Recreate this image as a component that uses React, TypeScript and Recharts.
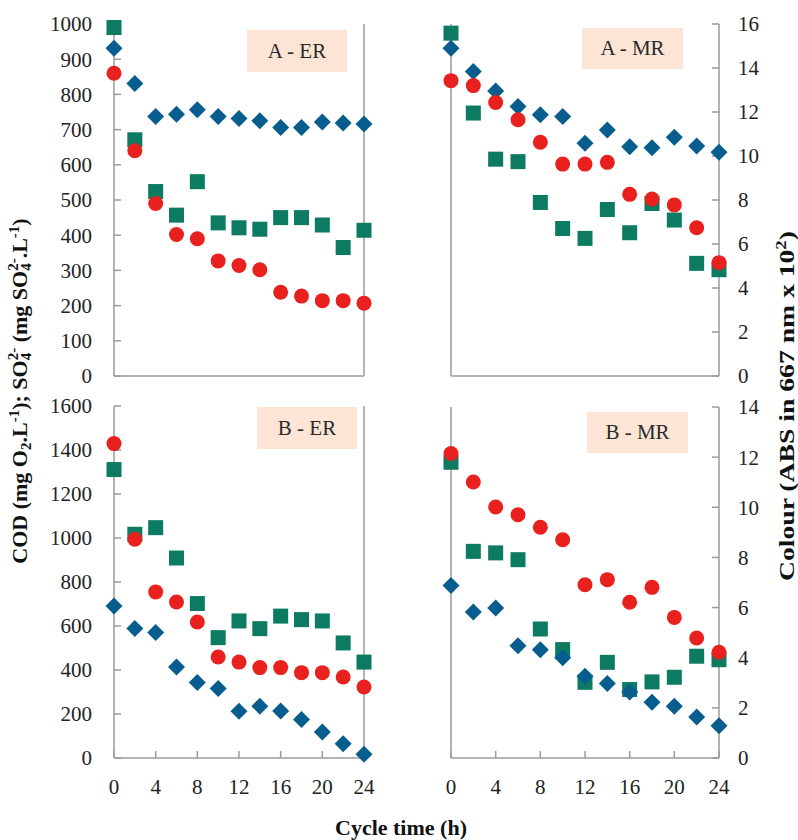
import React from 'react';
import { ScatterChart, Scatter, XAxis, YAxis } from 'recharts';

const time = [0, 2, 4, 6, 8, 10, 12, 14, 16, 18, 20, 22, 24];
const xTicks = [0, 4, 8, 12, 16, 20, 24];
const topLeftTicks = [0, 100, 200, 300, 400, 500, 600, 700, 800, 900, 1000];
const topRightTicks = [0, 2, 4, 6, 8, 10, 12, 14, 16];
const bottomLeftTicks = [0, 200, 400, 600, 800, 1000, 1200, 1400, 1600];
const bottomRightTicks = [0, 2, 4, 6, 8, 10, 12, 14];

// A - ER
const aErCod = [860, 640, 490, 402, 390, 327, 314, 302, 238, 227, 214, 214, 207];
const aErSulfate = [990, 671, 524, 457, 552, 435, 421, 417, 450, 450, 429, 365, 414];
const aErColour = [14.9, 13.3, 11.8, 11.9, 12.1, 11.8, 11.7, 11.6, 11.3, 11.3, 11.55, 11.5, 11.45];
// A - MR
const aMrCod = [839, 825, 777, 728, 664, 602, 602, 607, 516, 503, 486, 421, 322];
const aMrSulfate = [974, 747, 616, 609, 493, 419, 391, 473, 407, 490, 443, 320, 302];
const aMrColour = [14.9, 13.84, 12.96, 12.25, 11.87, 11.79, 10.58, 11.18, 10.42, 10.38, 10.85, 10.46, 10.17];
// B - ER
const bErCod = [1429, 994, 755, 709, 618, 459, 436, 411, 411, 388, 388, 368, 323];
const bErSulfate = [1311, 1017, 1047, 909, 702, 547, 623, 588, 645, 629, 623, 523, 436];
const bErColour = [6.05, 5.15, 4.99, 3.62, 3.0, 2.76, 1.86, 2.06, 1.87, 1.53, 1.03, 0.57, 0.15];
// B - MR
const bMrCod = [1388, 1258, 1144, 1109, 1052, 995, 790, 813, 710, 778, 641, 547, 482];
const bMrSulfate = [1348, 942, 935, 904, 588, 494, 345, 436, 312, 347, 368, 464, 448];
const bMrColour = [6.88, 5.82, 5.98, 4.48, 4.32, 4.0, 3.26, 2.97, 2.63, 2.22, 2.06, 1.64, 1.29];

const RED = '#E8211E';
const GREEN = '#0D7A62';
const BLUE = '#065D8E';
const AXIS = '#9B9B9B';
const SERIF = '"Liberation Serif", "Times New Roman", serif';

const toPts = (vals: number[]) => time.map((t, i) => ({ x: t, y: vals[i] }));

const Square = (p: any) => (
  <rect x={p.cx - 7.5} y={p.cy - 7.5} width={15} height={15} fill={GREEN} />
);
const Diamond = (p: any) => (
  <path
    d={`M${p.cx},${p.cy - 8.5}L${p.cx + 8.5},${p.cy}L${p.cx},${p.cy + 8.5}L${p.cx - 8.5},${p.cy}Z`}
    fill={BLUE}
  />
);
const Dot = (p: any) => <circle cx={p.cx} cy={p.cy} r={7.5} fill={RED} />;

const tickStyle = { fill: '#222', fontSize: 21, fontFamily: SERIF };

type PanelProps = {
  left: number;
  top: number;
  width: number;
  height: number;
  margin: { top: number; right: number; bottom: number; left: number };
  leftW: number;
  rightW: number;
  xH: number;
  cod: number[];
  sulfate: number[];
  colour: number[];
  leftMax: number;
  leftTicks: number[];
  rightMax: number;
  rightTicks: number[];
  showLeft: boolean;
  showRight: boolean;
  showX: boolean;
};

function Panel(p: PanelProps) {
  return (
    <div style={{ position: 'absolute', left: p.left, top: p.top }}>
      <ScatterChart width={p.width} height={p.height} margin={p.margin}>
        <XAxis
          type="number"
          dataKey="x"
          domain={[0, 24]}
          ticks={xTicks}
          height={p.xH}
          axisLine={{ stroke: AXIS, strokeWidth: 1.5 }}
          tickLine={{ stroke: AXIS, strokeWidth: 1.5 }}
          tickSize={-7}
          tickMargin={28}
          tick={p.showX ? tickStyle : false}
          interval={0}
        />
        <YAxis
          yAxisId="l"
          type="number"
          dataKey="y"
          orientation="left"
          domain={[0, p.leftMax]}
          ticks={p.leftTicks}
          width={p.leftW}
          axisLine={{ stroke: AXIS, strokeWidth: 1.5 }}
          tickLine={{ stroke: AXIS, strokeWidth: 1.5 }}
          tickSize={-7}
          tickMargin={29}
          tick={p.showLeft ? tickStyle : false}
          interval={0}
        />
        <YAxis
          yAxisId="r"
          type="number"
          dataKey="y"
          orientation="right"
          domain={[0, p.rightMax]}
          ticks={p.rightTicks}
          width={p.rightW}
          axisLine={{ stroke: AXIS, strokeWidth: 1.5 }}
          tickLine={{ stroke: AXIS, strokeWidth: 1.5 }}
          tickSize={-7}
          tickMargin={26}
          tick={p.showRight ? { ...tickStyle, textAnchor: 'start' } : false}
          interval={0}
        />
        <Scatter yAxisId="l" data={toPts(p.sulfate)} shape={Square} isAnimationActive={false} />
        <Scatter yAxisId="r" data={toPts(p.colour)} shape={Diamond} isAnimationActive={false} />
        <Scatter yAxisId="l" data={toPts(p.cod)} shape={Dot} isAnimationActive={false} />
      </ScatterChart>
    </div>
  );
}

const boxStyle = (left: number, top: number, w: number, h: number): React.CSSProperties => ({
  position: 'absolute',
  left,
  top,
  width: w,
  height: h,
  background: '#FCE5D5',
  color: '#2a2a2a',
  fontFamily: SERIF,
  fontSize: 21,
  display: 'flex',
  alignItems: 'center',
  justifyContent: 'center',
  whiteSpace: 'pre',
});

export default function App() {
  const topMargin = { top: 24, right: 0, bottom: 4, left: 0 };
  return (
    <div style={{ position: 'absolute', left: 0, top: 0, width: 798, height: 840, background: '#fff', overflow: 'hidden' }}>
      <Panel
        left={0} top={0} width={400} height={400} margin={topMargin} leftW={114} rightW={36} xH={20}
        cod={aErCod} sulfate={aErSulfate} colour={aErColour}
        leftMax={1000} leftTicks={topLeftTicks} rightMax={16} rightTicks={topRightTicks}
        showLeft={true} showRight={false} showX={false}
      />
      <Panel
        left={400} top={0} width={398} height={400} margin={topMargin} leftW={51} rightW={79} xH={20}
        cod={aMrCod} sulfate={aMrSulfate} colour={aMrColour}
        leftMax={1000} leftTicks={topLeftTicks} rightMax={16} rightTicks={topRightTicks}
        showLeft={false} showRight={true} showX={false}
      />
      <Panel
        left={0} top={380} width={400} height={420} margin={{ top: 26, right: 0, bottom: 2, left: 0 }} leftW={114} rightW={36} xH={40}
        cod={bErCod} sulfate={bErSulfate} colour={bErColour}
        leftMax={1600} leftTicks={bottomLeftTicks} rightMax={14} rightTicks={bottomRightTicks}
        showLeft={true} showRight={false} showX={true}
      />
      <Panel
        left={400} top={380} width={398} height={420} margin={{ top: 27, right: 0, bottom: 2, left: 0 }} leftW={51} rightW={79} xH={40}
        cod={bMrCod} sulfate={bMrSulfate} colour={bMrColour}
        leftMax={1600} leftTicks={bottomLeftTicks} rightMax={14} rightTicks={bottomRightTicks}
        showLeft={false} showRight={true} showX={true}
      />
      <div style={boxStyle(247, 30, 100, 42)}>A - ER</div>
      <div style={boxStyle(582, 28, 101, 41)}>A - MR</div>
      <div style={boxStyle(257, 407, 100, 42)}>B - ER</div>
      <div style={boxStyle(587, 412, 101, 41)}>B - MR</div>
      <svg width={798} height={840} style={{ position: 'absolute', left: 0, top: 0, pointerEvents: 'none' }}>
        <text
          transform="translate(27,391) rotate(-90)"
          textAnchor="middle"
          fontFamily={SERIF}
          fontWeight="bold"
          fontSize={22}
          fill="#111"
        >
          <tspan>COD (mg O</tspan>
          <tspan fontSize={15} dy={4}>2</tspan>
          <tspan dy={-4}>.L</tspan>
          <tspan fontSize={15} dy={-8}>-1</tspan>
          <tspan dy={8}>); SO</tspan>
          <tspan fontSize={15} dy={4}>4</tspan>
          <tspan fontSize={15} dx={-7.5} dy={-13}>2-</tspan>
          <tspan dy={9}> (mg SO</tspan>
          <tspan fontSize={15} dy={4}>4</tspan>
          <tspan fontSize={15} dx={-7.5} dy={-13}>2-</tspan>
          <tspan dy={9}>.L</tspan>
          <tspan fontSize={15} dy={-8}>-1</tspan>
          <tspan dy={8}>)</tspan>
        </text>
        <text
          transform="translate(794,406) rotate(-90)"
          textAnchor="middle"
          fontFamily={SERIF}
          fontWeight="bold"
          fontSize={22}
          textLength={350}
          lengthAdjust="spacingAndGlyphs"
          fill="#111"
        >
          <tspan>Colour (ABS in 667 nm x 10</tspan>
          <tspan fontSize={15} dy={-8}>2</tspan>
          <tspan dy={8}>)</tspan>
        </text>
        <text x={401} y={835} textAnchor="middle" fontFamily={SERIF} fontWeight="bold" fontSize={22} fill="#111">
          Cycle time (h)
        </text>
      </svg>
    </div>
  );
}
